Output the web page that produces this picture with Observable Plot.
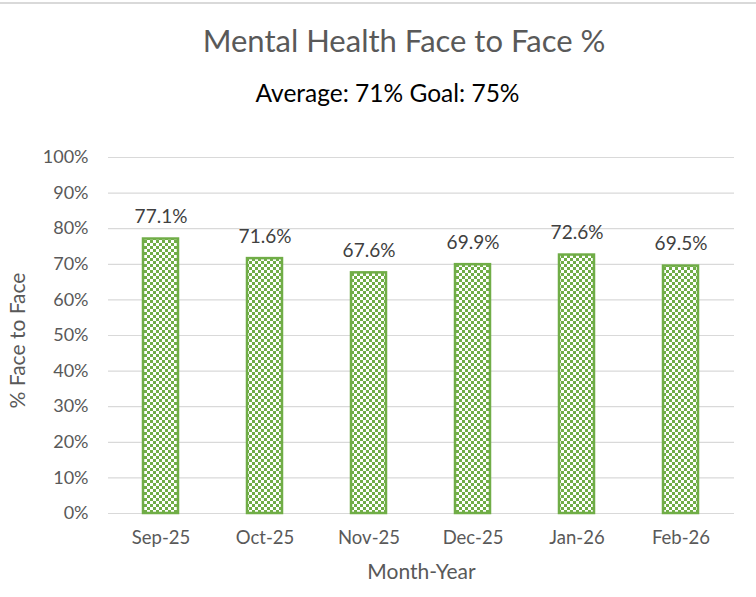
<!DOCTYPE html>
<html>
<head>
<meta charset="utf-8">
<script src="https://cdn.jsdelivr.net/npm/d3@7"></script>
<script src="https://cdn.jsdelivr.net/npm/@observablehq/plot@0.6"></script>
<style>
  html, body { margin: 0; padding: 0; background: #fff; }
  #wrap { position: relative; width: 756px; height: 597px; overflow: hidden; font-family: Lato, "Open Sans", sans-serif; }
  #topline { position: absolute; left: 0; top: 2px; width: 756px; height: 2px; background: #d9d9d9; }
  #title { position: absolute; left: 0; width: 808px; top: 25px; line-height: 1; text-align: center; font-size: 31px; color: #595959; white-space: nowrap; }
  #subtitle { position: absolute; left: 0; width: 775px; top: 81px; line-height: 1; text-align: center; font-size: 24.5px; color: #000; white-space: nowrap; }
  #chart { position: absolute; left: 0; top: 0; }
</style>
</head>
<body>
<div id="wrap">
  <div id="topline"></div>
  <div id="chart"></div>
  <div id="title">Mental Health Face to Face %</div>
  <div id="subtitle">Average: 71% Goal: 75%</div>
</div>
<script>
const months = ["Sep-25", "Oct-25", "Nov-25", "Dec-25", "Jan-26", "Feb-26"];
const values = [0.771, 0.716, 0.676, 0.699, 0.726, 0.695];
const labels = ["77.1%", "71.6%", "67.6%", "69.9%", "72.6%", "69.5%"];
const yTicks = [0, 0.1, 0.2, 0.3, 0.4, 0.5, 0.6, 0.7, 0.8, 0.9, 1.0];
const xTitle = "Month-Year";
const yTitle = "% Face to Face";

const data = months.map((m, i) => ({month: m, value: values[i], label: labels[i]}));
const green = "#70AD47";

const chart = Plot.plot({
  width: 756,
  height: 597,
  marginTop: 157,
  marginBottom: 84,
  marginLeft: 108,
  marginRight: 22,
  style: {fontFamily: "Lato, 'Open Sans', sans-serif", fontSize: "18px", color: "#595959", background: "transparent"},
  x: {domain: months, paddingInner: 0.66, paddingOuter: 0.33, label: null},
  y: {domain: [0, 1], ticks: yTicks, tickFormat: d3.format(".0%"), label: null},
  marks: [
    Plot.gridY(yTicks, {stroke: "#d9d9d9", strokeOpacity: 1, strokeWidth: 1.2}),
    Plot.axisY({ticks: yTicks, tickSize: 0, tickPadding: 20, tickFormat: d3.format(".0%"), fontSize: 18, fill: "#595959", label: null}),
    Plot.axisX({tickSize: 0, tickPadding: 17, fontSize: 18.5, fill: "#595959", label: null}),
    Plot.barY(data, {x: "month", y: "value", fill: "url(#checker)", stroke: green, strokeWidth: 2.5}),
    Plot.text(data, {x: "month", y: "value", text: "label", dy: -16, lineAnchor: "bottom", fontSize: 19, fill: "#404040"}),
    Plot.text([xTitle], {frameAnchor: "bottom", lineAnchor: "bottom", dy: 65, fontSize: 21, fill: "#595959"}),
    Plot.text([yTitle], {frameAnchor: "left", textAnchor: "middle", dx: -90, dy: 5, rotate: -90, fontSize: 21, fill: "#595959"})
  ]
});

// checker pattern definition
const svg = d3.select(chart);
const defs = svg.insert("defs", ":first-child");
const pat = defs.append("pattern")
  .attr("id", "checker")
  .attr("patternUnits", "userSpaceOnUse")
  .attr("width", 6).attr("height", 6);
pat.append("rect").attr("width", 6).attr("height", 6).attr("fill", "#fff");
pat.append("rect").attr("x", 0).attr("y", 0).attr("width", 3).attr("height", 3).attr("fill", green);
pat.append("rect").attr("x", 3).attr("y", 3).attr("width", 3).attr("height", 3).attr("fill", green);

document.getElementById("chart").appendChild(chart);
</script>
</body>
</html>
